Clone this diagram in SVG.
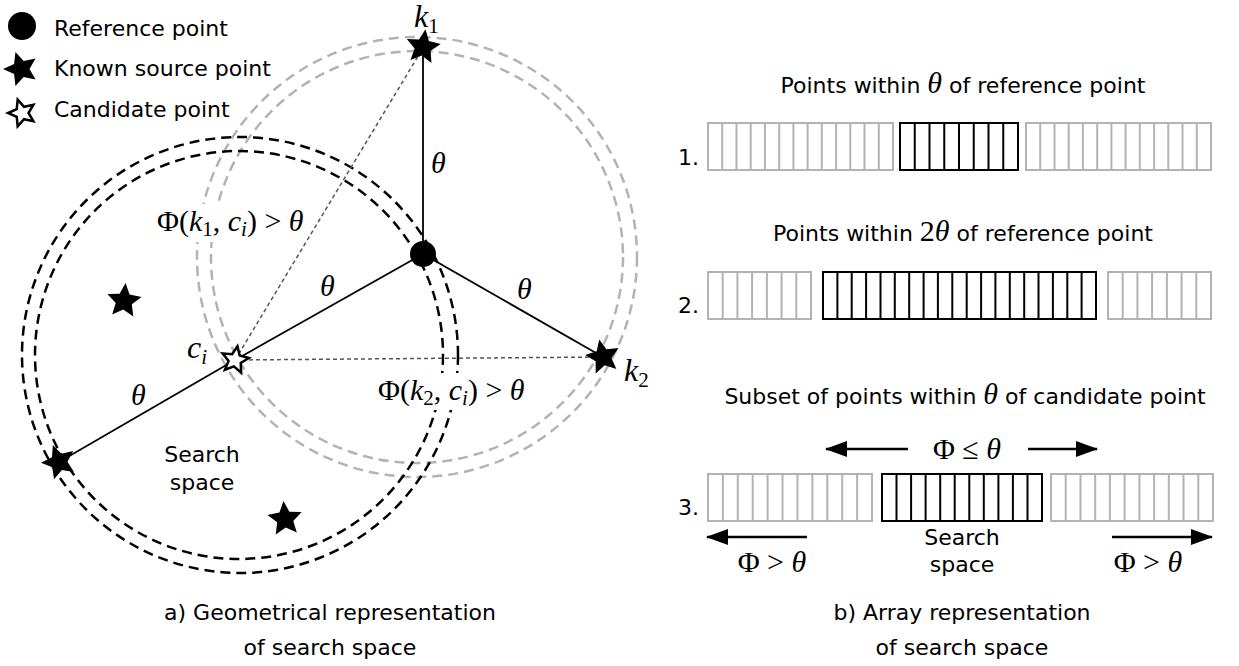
<svg xmlns="http://www.w3.org/2000/svg" width="1239" height="666" viewBox="0 0 1239 666">
  <style>
    .sans { font-family: "DejaVu Sans", Verdana, sans-serif; font-size: 22px; fill: #000; }
    .math { font-family: "Liberation Serif", "Times New Roman", serif; font-size: 30px; fill: #000; }
    .it { font-style: italic; }
    .sub { font-size: 21px; }
    .solid { stroke: #000; stroke-width: 1.8; fill: none; }
    .dot { stroke: #555; stroke-width: 1.5; stroke-dasharray: 4 3; fill: none; }
    .ring-k { stroke: #000; stroke-width: 2.5; stroke-dasharray: 10 6; fill: none; }
    .ring-g { stroke: #b3b3b3; stroke-width: 2.5; stroke-dasharray: 10 6; fill: none; }
    .cell-g { stroke: #b3b3b3; stroke-width: 2; fill: none; }
    .cell-k { stroke: #000; stroke-width: 2; fill: none; }
    .arrow { stroke: #000; stroke-width: 2.5; fill: none; }
    .filled { fill: #000; }
    .open { fill: #fff; stroke: #000; stroke-width: 2.5; stroke-linejoin: miter; }
    .halo { fill: #fff; }
  </style>
  <defs>
    <path id="star" d="M0,-18 L5,-6.88 L17.12,-5.56 L8.08,2.63 L10.58,14.56 L0,8.5 L-10.58,14.56 L-8.08,2.63 L-17.12,-5.56 L-5,-6.88 Z"/>
    <path id="star-small" d="M0,-14 L3.82,-5.26 L13.31,-4.33 L6.18,2.01 L8.23,11.33 L0,6.5 L-8.23,11.33 L-6.18,2.01 L-13.31,-4.33 L-3.82,-5.26 Z"/>
    <marker id="head" viewBox="0 0 22 16" refX="21" refY="8" markerWidth="22" markerHeight="16" markerUnits="userSpaceOnUse" orient="auto">
      <path d="M0,0 L22,8 L0,16 Z" fill="#000"/>
    </marker>
  </defs>

  <!-- legend -->
  <g id="legend">
    <circle cx="22" cy="26" r="14" class="filled"/>
    <text x="54" y="36" class="sans">Reference point</text>
    <use href="#star" transform="translate(21,69) rotate(-18)" class="filled"/>
    <text x="54" y="76" class="sans">Known source point</text>
    <use href="#star-small" transform="translate(22,113) rotate(-18)" class="open"/>
    <text x="54" y="117" class="sans">Candidate point</text>
  </g>

  <!-- a) geometric view: neighbourhood rings -->
  <g id="rings">
    <circle cx="417" cy="257" r="220" class="ring-g"/>
    <circle cx="417" cy="257" r="206" class="ring-g"/>
    <circle cx="240" cy="355" r="218" class="ring-k"/>
    <circle cx="239" cy="355" r="204" class="ring-k"/>
  </g>

  <g id="connectors">
    <line x1="235" y1="360" x2="423" y2="48" class="dot"/>
    <line x1="235" y1="360" x2="603" y2="357" class="dot"/>
    <line x1="423" y1="254" x2="423" y2="48" class="solid"/>
    <line x1="423" y1="254" x2="603" y2="357" class="solid"/>
    <line x1="423" y1="254" x2="235" y2="360" class="solid"/>
    <line x1="235" y1="360" x2="59" y2="462" class="solid"/>
  </g>

  <g id="reference">
    <circle cx="423" cy="254" r="13" class="filled"/>
  </g>
  <g id="k1">
    <use href="#star" transform="translate(423,47) rotate(8)" class="filled"/>
    <text x="414" y="27" class="math"><tspan class="it" font-size="32">k</tspan><tspan class="sub" dy="6">1</tspan></text>
  </g>
  <g id="k2">
    <use href="#star" transform="translate(603,357) rotate(-12)" class="filled"/>
    <text x="624" y="381" class="math"><tspan class="it" font-size="32">k</tspan><tspan class="sub" dy="6">2</tspan></text>
  </g>
  <g id="ci">
    <use href="#star-small" transform="translate(235,360) rotate(10)" class="open"/>
    <text x="187" y="358" class="math"><tspan class="it" font-size="32">c</tspan><tspan class="sub it" dy="6">i</tspan></text>
  </g>
  <g id="k3">
    <use href="#star" transform="translate(59,462) rotate(-20)" class="filled"/>
  </g>
  <g id="k4">
    <use href="#star" transform="translate(124,301) rotate(5)" class="filled"/>
  </g>
  <g id="k5">
    <use href="#star" transform="translate(285,519) rotate(-5)" class="filled"/>
  </g>

  <!-- distance labels -->
  <g id="labels-a">
    <text x="431" y="173" class="math it" font-size="34">θ</text>
    <text x="320" y="296" class="math it" font-size="34">θ</text>
    <text x="517" y="299" class="math it" font-size="34">θ</text>
    <text x="131" y="405" class="math it" font-size="34">θ</text>
    <rect x="155" y="204" width="150" height="38" class="halo"/>
    <text x="157" y="231" class="math">Φ(<tspan class="it">k</tspan><tspan class="sub" dy="5">1</tspan><tspan dy="-5">, </tspan><tspan class="it">c</tspan><tspan class="sub it" dy="5">i</tspan><tspan dy="-5">) &gt; </tspan><tspan class="it">θ</tspan></text>
    <rect x="376" y="373" width="152" height="37" class="halo"/>
    <text x="378" y="400" class="math">Φ(<tspan class="it">k</tspan><tspan class="sub" dy="5">2</tspan><tspan dy="-5">, </tspan><tspan class="it">c</tspan><tspan class="sub it" dy="5">i</tspan><tspan dy="-5">) &gt; </tspan><tspan class="it">θ</tspan></text>
    <text x="202" y="462" class="sans" text-anchor="middle">Search</text>
    <text x="202" y="490" class="sans" text-anchor="middle">space</text>
  </g>

  <!-- b) array view -->
  <g id="row1">
    <text x="963" y="93" class="sans" text-anchor="middle">Points within <tspan class="math it" font-size="32">θ</tspan> of reference point</text>
    <text x="678" y="165" class="sans">1.</text>
    <rect x="708" y="123" width="185" height="47" class="cell-g"/>
    <path class="cell-g" d="M722.2,123V170M736.5,123V170M750.7,123V170M764.9,123V170M779.2,123V170M793.4,123V170M807.6,123V170M821.8,123V170M836.1,123V170M850.3,123V170M864.5,123V170M878.8,123V170"/>
    <rect x="900" y="123" width="118" height="47" class="cell-k"/>
    <path class="cell-k" d="M914.75,123V170M929.5,123V170M944.25,123V170M959,123V170M973.75,123V170M988.5,123V170M1003.25,123V170"/>
    <rect x="1026" y="123" width="185" height="47" class="cell-g"/>
    <path class="cell-g" d="M1040.2,123V170M1054.5,123V170M1068.7,123V170M1082.9,123V170M1097.2,123V170M1111.4,123V170M1125.6,123V170M1139.8,123V170M1154.1,123V170M1168.3,123V170M1182.5,123V170M1196.8,123V170"/>
  </g>

  <g id="row2">
    <text x="963" y="241" class="sans" text-anchor="middle">Points within <tspan class="math" font-size="32">2</tspan><tspan class="math it" font-size="32">θ</tspan> of reference point</text>
    <text x="678" y="313" class="sans">2.</text>
    <rect x="708" y="272" width="103" height="47" class="cell-g"/>
    <path class="cell-g" d="M722.7,272V319M737.4,272V319M752.1,272V319M766.9,272V319M781.6,272V319M796.3,272V319"/>
    <rect x="823" y="272" width="273" height="47" class="cell-k"/>
    <path class="cell-k" d="M837.4,272V319M851.7,272V319M866.1,272V319M880.5,272V319M894.8,272V319M909.2,272V319M923.6,272V319M937.9,272V319M952.3,272V319M966.7,272V319M981.1,272V319M995.4,272V319M1009.8,272V319M1024.2,272V319M1038.5,272V319M1052.9,272V319M1067.3,272V319M1081.6,272V319"/>
    <rect x="1108" y="272" width="103" height="47" class="cell-g"/>
    <path class="cell-g" d="M1122.7,272V319M1137.4,272V319M1152.1,272V319M1166.9,272V319M1181.6,272V319M1196.3,272V319"/>
  </g>

  <g id="row3">
    <text x="965" y="404" class="sans" text-anchor="middle">Subset of points within <tspan class="math it" font-size="32">θ</tspan> of candidate point</text>
    <text x="678" y="515" class="sans">3.</text>
    <rect x="708" y="474" width="164" height="47" class="cell-g"/>
    <path class="cell-g" d="M722.9,474V521M737.8,474V521M752.7,474V521M767.6,474V521M782.5,474V521M797.5,474V521M812.4,474V521M827.3,474V521M842.2,474V521M857.1,474V521"/>
    <rect x="882" y="474" width="160" height="47" class="cell-k"/>
    <path class="cell-k" d="M896.5,474V521M911.1,474V521M925.6,474V521M940.2,474V521M954.7,474V521M969.3,474V521M983.8,474V521M998.4,474V521M1012.9,474V521M1027.5,474V521"/>
    <rect x="1051" y="474" width="162" height="47" class="cell-g"/>
    <path class="cell-g" d="M1065.7,474V521M1080.5,474V521M1095.2,474V521M1109.9,474V521M1124.6,474V521M1139.4,474V521M1154.1,474V521M1168.8,474V521M1183.5,474V521M1198.3,474V521"/>
    <text x="962" y="545" class="sans" text-anchor="middle">Search</text>
    <text x="962" y="572" class="sans" text-anchor="middle">space</text>
  </g>

  <g id="range-arrows">
    <line x1="908" y1="449" x2="826" y2="449" class="arrow" marker-end="url(#head)"/>
    <line x1="1028" y1="449" x2="1097" y2="449" class="arrow" marker-end="url(#head)"/>
    <line x1="807" y1="537" x2="707" y2="537" class="arrow" marker-end="url(#head)"/>
    <line x1="1112" y1="537" x2="1212" y2="537" class="arrow" marker-end="url(#head)"/>
    <text x="967" y="459" class="math" font-size="32" text-anchor="middle">Φ ≤ <tspan class="it">θ</tspan></text>
    <text x="772" y="572" class="math" font-size="32" text-anchor="middle">Φ &gt; <tspan class="it">θ</tspan></text>
    <text x="1148" y="572" class="math" font-size="32" text-anchor="middle">Φ &gt; <tspan class="it">θ</tspan></text>
  </g>

  <!-- captions -->
  <g id="captions">
    <text x="330" y="620" class="sans" text-anchor="middle">a) Geometrical representation</text>
    <text x="330" y="655" class="sans" text-anchor="middle">of search space</text>
    <text x="962" y="620" class="sans" text-anchor="middle">b) Array representation</text>
    <text x="962" y="655" class="sans" text-anchor="middle">of search space</text>
  </g>
</svg>
